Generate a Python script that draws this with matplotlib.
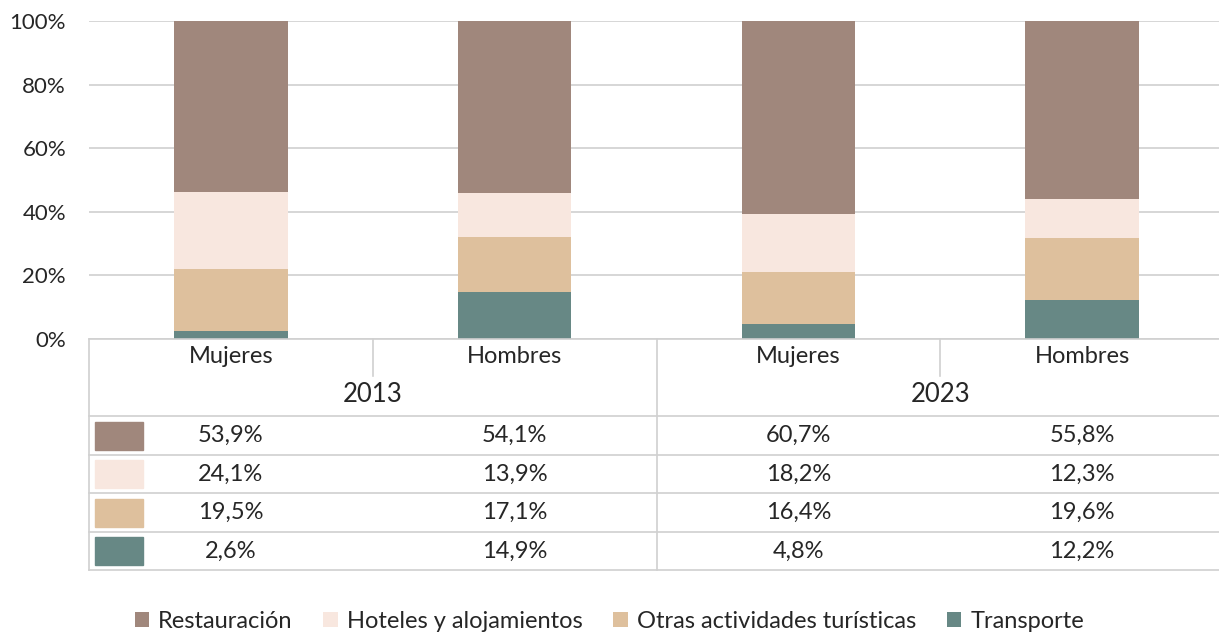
import matplotlib
matplotlib.use('Agg')
import numpy as np
import matplotlib.pyplot as plt
from matplotlib.patches import Patch, Rectangle

plt.rcParams['font.family'] = ['Lato', 'DejaVu Sans']

years = ['2013', '2023']
groups = ['Mujeres', 'Hombres', 'Mujeres', 'Hombres']
series = ['Restauración', 'Hoteles y alojamientos', 'Otras actividades turísticas', 'Transporte']
restauracion = [53.9, 54.1, 60.7, 55.8]
hoteles = [24.1, 13.9, 18.2, 12.3]
otras = [19.5, 17.1, 16.4, 19.6]
transporte = [2.6, 14.9, 4.8, 12.2]
colors = ['#A0877C', '#F8E7DF', '#DEC09D', '#678885']
ytick_vals = [0, 20, 40, 60, 80, 100]

txt = '#262626'
grid_c = '#D0D0D0'
fs = 17

W, H = 1219, 634
fig = plt.figure(figsize=(W / 100, H / 100), dpi=100)

# plot area in pixels
left, right, top, bottom = 89, 1224, 21, 339
ax = fig.add_axes([left / W, 1 - bottom / H, (right - left) / W, (bottom - top) / H])
x = np.arange(len(groups))
values = [restauracion, hoteles, otras, transporte]
# stack from bottom: transporte, otras, hoteles, restauracion
base = np.zeros(len(groups))
for vals, col in zip(values[::-1], colors[::-1]):
    ax.bar(x, vals, width=0.4, bottom=base, color=col, zorder=3)
    base = base + np.array(vals)

ax.set_xlim(-0.5, len(groups) - 0.5)
ax.set_ylim(0, 100)
ax.set_yticks(ytick_vals)
ax.set_yticklabels([f'{v}%' for v in ytick_vals], fontsize=16, color=txt)
ax.tick_params(axis='y', length=0, pad=16.5)
ax.set_xticks([])
ax.grid(axis='y', color=grid_c, linewidth=1.2, zorder=0)
for s in ax.spines.values():
    s.set_visible(False)

# data table below, same x scale, y in pixels
tb = 570
tax = fig.add_axes([left / W, 1 - tb / H, (right - left) / W, (tb - bottom) / H])
tax.set_xlim(-0.5, len(groups) - 0.5)
tax.set_ylim(tb, bottom)
tax.axis('off')

row_lines = [bottom, 416, 455, 493, 532, 570]
for yl in row_lines:
    tax.plot([-0.5, 3.5], [yl, yl], color=grid_c, lw=1.2, clip_on=False)
tax.plot([-0.5, -0.5], [bottom, tb], color=grid_c, lw=1.2, clip_on=False)
tax.plot([1.5, 1.5], [bottom, tb], color=grid_c, lw=1.2, clip_on=False)
for xd in [0.5, 2.5]:
    tax.plot([xd, xd], [bottom, 376], color=grid_c, lw=1.2, clip_on=False)

for i, g in enumerate(groups):
    tax.text(i, 357, g, ha='center', va='center', fontsize=fs, color=txt)
for j, yr in enumerate(years):
    tax.text(2 * j + 0.5, 395, yr, ha='center', va='center', fontsize=18.5, color=txt)

row_mid = [(row_lines[k] + row_lines[k + 1]) / 2 for k in range(1, 5)]
sw_w = 48 / 283.75
for k, (vals, col) in enumerate(zip(values, colors)):
    ym = row_mid[k]
    tax.add_patch(Rectangle((-0.5 + 6 / 283.75, ym - 14), sw_w, 28, color=col, clip_on=False))
    for i, v in enumerate(vals):
        tax.text(i, ym, f'{v:.1f}%'.replace('.', ','), ha='center', va='center',
                 fontsize=fs, color=txt)

handles = [Patch(facecolor=c, edgecolor='none') for c in colors]
fig.legend(handles, series, loc='center', bbox_to_anchor=(0.5, 1 - 621 / H), ncol=4,
           frameon=False, fontsize=fs, handlelength=0.6, handleheight=0.6,
           handletextpad=0.4, columnspacing=1.3, labelcolor=txt)

fig.savefig('out.png', dpi=100)
